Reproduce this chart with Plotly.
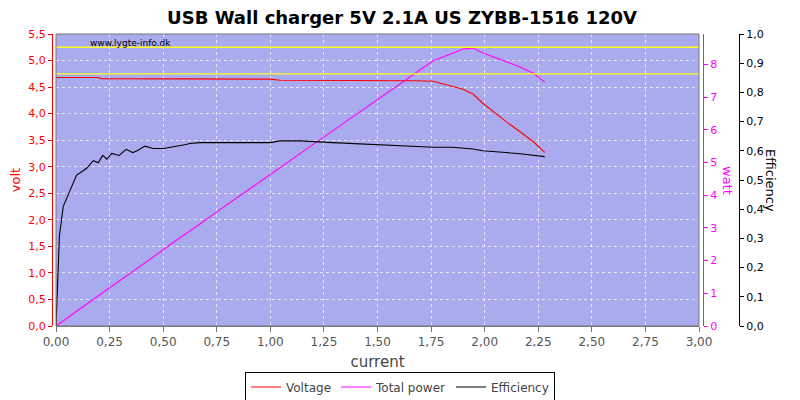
import plotly.graph_objects as go

current = [0.0, 0.016, 0.034, 0.065, 0.096, 0.12, 0.143, 0.174, 0.197, 0.21, 0.218, 0.237,
           0.26, 0.295, 0.327, 0.358, 0.379, 0.415, 0.454, 0.501, 0.555, 0.60, 0.625, 0.672,
           0.75, 0.90, 1.0, 1.045, 1.14, 1.29, 1.40, 1.50, 1.60, 1.683, 1.76, 1.85, 1.90,
           1.93, 1.946, 1.99, 2.04, 2.10, 2.165, 2.227, 2.28]
voltage = [4.68, 4.68, 4.68, 4.68, 4.68, 4.68, 4.68, 4.68, 4.68, 4.66, 4.66, 4.66,
           4.66, 4.66, 4.66, 4.66, 4.66, 4.66, 4.66, 4.66, 4.66, 4.65, 4.65, 4.65,
           4.65, 4.65, 4.65, 4.63, 4.63, 4.63, 4.63, 4.62, 4.62, 4.62, 4.61, 4.51, 4.46,
           4.40, 4.37, 4.20, 4.04, 3.85, 3.66, 3.47, 3.27]
power = [0.0, 0.07, 0.16, 0.30, 0.45, 0.56, 0.67, 0.81, 0.92, 0.98, 1.02, 1.10,
         1.21, 1.37, 1.52, 1.67, 1.77, 1.93, 2.12, 2.33, 2.59, 2.79, 2.91, 3.12,
         3.49, 4.19, 4.65, 4.84, 5.28, 5.97, 6.48, 6.93, 7.39, 7.78, 8.11, 8.34, 8.47,
         8.49, 8.50, 8.36, 8.24, 8.09, 7.92, 7.73, 7.46]
efficiency = [0.0, 0.31, 0.41, 0.466, 0.517, 0.528, 0.54, 0.566, 0.559, 0.575, 0.584, 0.571,
              0.591, 0.584, 0.605, 0.594, 0.600, 0.616, 0.608, 0.608, 0.614, 0.621, 0.625, 0.628,
              0.628, 0.628, 0.628, 0.634, 0.634, 0.628, 0.624, 0.620, 0.616, 0.614, 0.612, 0.612, 0.610,
              0.608, 0.606, 0.600, 0.598, 0.594, 0.590, 0.585, 0.580]
limit_lines = [4.75, 5.25]

OFF = 8  # page body margin
W, H = 800 - OFF, 400 - OFF
L, R, T, B = 52 - OFF, 739 - OFF, 34 - OFF, 326 - OFF
pw = R - L
ph = B - T
x0 = (56 - OFF - L) / pw
x1 = (699 - OFF - L) / pw
watt_pos = (703 - OFF - L) / pw


def px(xs):
    return (xs - OFF - L) / pw


def py(ys):
    return 1 - (ys - OFF - T) / ph


fig = go.Figure()
fig.add_trace(go.Scatter(x=current, y=voltage, name="Voltage", mode="lines",
                         line=dict(color="#FF0000", width=1.1), yaxis="y"))
fig.add_trace(go.Scatter(x=current, y=power, name="Total power", mode="lines",
                         line=dict(color="#FF00FF", width=1.1), yaxis="y2"))
fig.add_trace(go.Scatter(x=current, y=efficiency, name="Efficiency", mode="lines",
                         line=dict(color="#000000", width=1.1), yaxis="y3"))

for v in limit_lines:
    fig.add_shape(type="line", xref="x domain", yref="y", x0=0, x1=1, y0=v, y1=v,
                  line=dict(color="#FFFF22", width=1.3), layer="above")

fig.add_shape(type="rect", xref="x domain", yref="y domain", x0=0, x1=1, y0=0, y1=1,
              line=dict(color="#777777", width=1), layer="above")

grid = "rgba(255,255,255,0.7)"
fig.update_layout(
    width=W, height=H,
    margin=dict(l=L, r=W - R, t=T, b=H - B, autoexpand=False),
    paper_bgcolor="white",
    plot_bgcolor="#AAAAEE",
    separators=",.",
    showlegend=True,
    font=dict(family="DejaVu Sans", size=11),
    title=dict(text="<b>USB Wall charger 5V 2.1A US ZYBB-1516 120V</b>",
               x=(402 - OFF) / W, xanchor="center", y=1 - (18 - OFF) / H, yanchor="middle",
               xref="container", yref="container",
               font=dict(family="DejaVu Sans", size=18, color="black")),
    xaxis=dict(domain=[x0, x1], range=[0, 3], tickvals=[i * 0.25 for i in range(13)],
               tickformat=".2f", showgrid=True, gridcolor=grid,
               griddash="3px,3px", gridwidth=1, zeroline=False, automargin=False,
               ticks="outside", ticklen=5, tickcolor="#777777",
               showline=True, linecolor="#777777",
               tickfont=dict(color="#555555", size=12, family="DejaVu Sans"),
               title=dict(text="current", font=dict(size=15, color="#444444"), standoff=8)),
    yaxis=dict(range=[0, 5.5], tickvals=[i * 0.5 for i in range(12)], tickformat=".1f",
               anchor="free", position=0, showgrid=True, automargin=False,
               gridcolor=grid, griddash="3px,3px", zeroline=False,
               showline=True, linecolor="#FF0000", ticks="outside", ticklen=4,
               tickcolor="#FF0000", tickfont=dict(color="#FF0000", size=11),
               title=dict(text="volt", font=dict(color="#FF0000", size=13), standoff=4)),
    yaxis2=dict(range=[0, 8.93], tickvals=list(range(9)), overlaying="y", side="right",
                anchor="free", position=watt_pos, showgrid=False, zeroline=False,
                automargin=False,
                showline=True, linecolor="#FF00FF", ticks="outside", ticklen=4,
                tickcolor="#FF00FF", tickfont=dict(color="#FF00FF", size=11)),
    yaxis3=dict(range=[0, 1.0], tickvals=[i / 10 for i in range(11)], tickformat=".1f",
                overlaying="y", side="right", anchor="free", position=1.0,
                showgrid=False, zeroline=False, showline=True, linecolor="#000000",
                automargin=False,
                ticks="outside", ticklen=4, tickcolor="#000000",
                tickfont=dict(color="#000000", size=11)),
    legend=dict(orientation="h", x=px(400), xanchor="center", y=py(387),
                yanchor="middle", bordercolor="black", borderwidth=1,
                font=dict(size=12, color="#444444"), bgcolor="white",
                itemwidth=30, tracegroupgap=0),
)

fig.add_annotation(text="www.lygte-info.dk", xref="paper", yref="paper",
                   x=px(88), y=py(43), xanchor="left", yanchor="middle",
                   showarrow=False, font=dict(size=9, color="black"))
fig.add_annotation(text="watt", xref="paper", yref="paper",
                   x=px(728), y=py(180), xanchor="center", yanchor="middle",
                   textangle=90, showarrow=False, font=dict(size=13, color="#FF00FF"))
fig.add_annotation(text="Efficiency", xref="paper", yref="paper",
                   x=px(771), y=py(180), xanchor="center", yanchor="middle",
                   textangle=90, showarrow=False, font=dict(size=13, color="black"))

fig.write_html("out.html")
